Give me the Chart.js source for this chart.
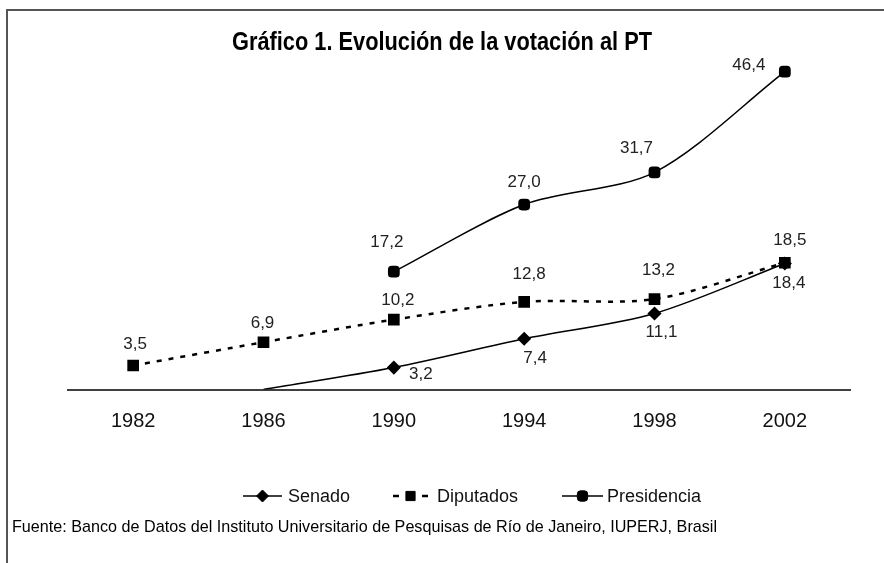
<!DOCTYPE html>
<html>
<head>
<meta charset="utf-8">
<script src="https://cdn.jsdelivr.net/npm/chart.js@4.4.1/dist/chart.umd.min.js"></script>
<style>
  html, body { margin: 0; padding: 0; background: #fff; }
  #wrap { position: relative; width: 884px; height: 563px; }
</style>
</head>
<body>
<div id="wrap"><canvas id="c" width="884" height="563"></canvas></div>
<script>
// ---- data ----
const years = ['1982', '1986', '1990', '1994', '1998', '2002'];
const senado = [null, 0, 3.2, 7.4, 11.1, 18.4];
const diputados = [3.5, 6.9, 10.2, 12.8, 13.2, 18.5];
const presidencia = [null, null, 17.2, 27.0, 31.7, 46.4];
const seriesNames = ['Senado', 'Diputados', 'Presidencia'];
const titleText = 'Gráfico 1. Evolución de la votación al PT';
const sourceText = 'Fuente: Banco de Datos del Instituto Universitario de Pesquisas de Río de Janeiro, IUPERJ, Brasil';

// label offsets (style, px)
const labelOffsets = [
  { dx: [0, 0, 27, 11, 7, 4], dy: [0, 0, 7, 20, 19, 20] },
  { dx: [2, -1, 4, 5, 4, 5], dy: [-21, -19, -19, -28, -29, -22] },
  { dx: [0, 0, -7, 0, -18, -36], dy: [0, 0, -29, -22, -24, -6] }
];

const fmt = v => v.toFixed(1).replace('.', ',');
const arial = '"Liberation Sans", Arial, sans-serif';

function fitText(ctx, text, x, y, width, align) {
  const w = ctx.measureText(text).width;
  const s = Math.min(1, width / w);
  ctx.save();
  ctx.translate(x, y);
  ctx.scale(s, 1);
  ctx.textAlign = align;
  ctx.fillText(text, 0, 0);
  ctx.restore();
}

const framePlugin = {
  id: 'frame',
  beforeDraw(chart) {
    const ctx = chart.ctx;
    ctx.save();
    ctx.fillStyle = '#fff';
    ctx.fillRect(0, 0, chart.width, chart.height);
    ctx.strokeStyle = '#555';
    ctx.lineWidth = 2;
    ctx.beginPath();
    ctx.moveTo(7, chart.height);
    ctx.lineTo(7, 10);
    ctx.lineTo(chart.width, 10);
    ctx.stroke();
    ctx.restore();
  },
  afterDraw(chart) {
    const ctx = chart.ctx;
    ctx.save();
    // title
    ctx.fillStyle = '#000';
    ctx.font = 'bold 25px ' + arial;
    ctx.textBaseline = 'alphabetic';
    fitText(ctx, titleText, 442, 50, 420, 'center');
    // source
    ctx.font = '17px ' + arial;
    fitText(ctx, sourceText, 12, 532, 705, 'left');

    // data labels
    ctx.font = '17px ' + arial;
    ctx.fillStyle = '#222';
    ctx.textAlign = 'center';
    ctx.textBaseline = 'middle';
    chart.data.datasets.forEach((ds, di) => {
      const meta = chart.getDatasetMeta(di);
      meta.data.forEach((pt, i) => {
        const v = ds.data[i];
        if (v === null || v === 0) return;
        const o = labelOffsets[di];
        ctx.fillText(fmt(v), pt.x + o.dx[i], pt.y + o.dy[i]);
      });
    });

    // legend
    const ly = 496;
    const items = [
      { x0: 243, x1: 282, tx: 288, di: 0 },
      { x0: 393, x1: 428, tx: 437, di: 1 },
      { x0: 562, x1: 603, tx: 607, di: 2 }
    ];
    items.forEach(it => {
      const ds = chart.data.datasets[it.di];
      ctx.save();
      ctx.strokeStyle = '#000';
      ctx.lineWidth = ds.borderWidth;
      ctx.beginPath();
      if (ds.borderDash) {
        ctx.moveTo(it.x0, ly); ctx.lineTo(it.x0 + 6, ly);
        ctx.moveTo(it.x1 - 6, ly); ctx.lineTo(it.x1, ly);
      } else {
        ctx.moveTo(it.x0, ly); ctx.lineTo(it.x1, ly);
      }
      ctx.stroke();
      ctx.restore();
      ctx.fillStyle = '#000';
      ctx.strokeStyle = '#000';
      Chart.helpers.drawPoint(ctx, {
        pointStyle: ds.pointStyle, radius: ds.legendRadius, borderWidth: 1, rotation: 0
      }, (it.x0 + it.x1) / 2, ly);
    });
    ctx.fillStyle = '#111';
    ctx.font = '18px ' + arial;
    ctx.textAlign = 'left';
    ctx.textBaseline = 'middle';
    items.forEach(it => ctx.fillText(seriesNames[it.di], it.tx, ly + 1));
    ctx.restore();
  }
};

new Chart(document.getElementById('c'), {
  type: 'line',
  data: {
    labels: years,
    datasets: [
      {
        label: seriesNames[0], data: senado,
        borderColor: '#000', backgroundColor: '#000', borderWidth: 1.5,
        pointStyle: 'rectRot', pointRadius: [0, 0, 6, 6, 6, 6], legendRadius: 6,
        tension: 0.3, spanGaps: false
      },
      {
        label: seriesNames[1], data: diputados,
        borderColor: '#000', backgroundColor: '#000', borderWidth: 2.5,
        borderDash: [5, 7],
        pointStyle: 'rect', pointRadius: 6.5, legendRadius: 6.5,
        tension: 0.3
      },
      {
        label: seriesNames[2], data: presidencia,
        borderColor: '#000', backgroundColor: '#000', borderWidth: 1.5,
        pointStyle: 'rectRounded', pointRadius: 6, legendRadius: 6,
        tension: 0.3
      }
    ]
  },
  options: {
    responsive: false,
    animation: false,
    events: [],
    layout: { padding: { left: 68, right: 34, top: 47, bottom: 0 } },
    plugins: { legend: { display: false }, title: { display: false }, tooltip: { enabled: false } },
    scales: {
      x: {
        offset: true,
        grid: { display: false, drawTicks: false },
        border: { display: true, color: '#404040', width: 2 },
        ticks: { color: '#111', font: { family: arial, size: 20 }, padding: 20 },
        afterFit(scale) { scale.height = 563 - 389.5; }
      },
      y: {
        display: false,
        min: 0, max: 50
      }
    }
  },
  plugins: [framePlugin]
});
</script>
</body>
</html>
